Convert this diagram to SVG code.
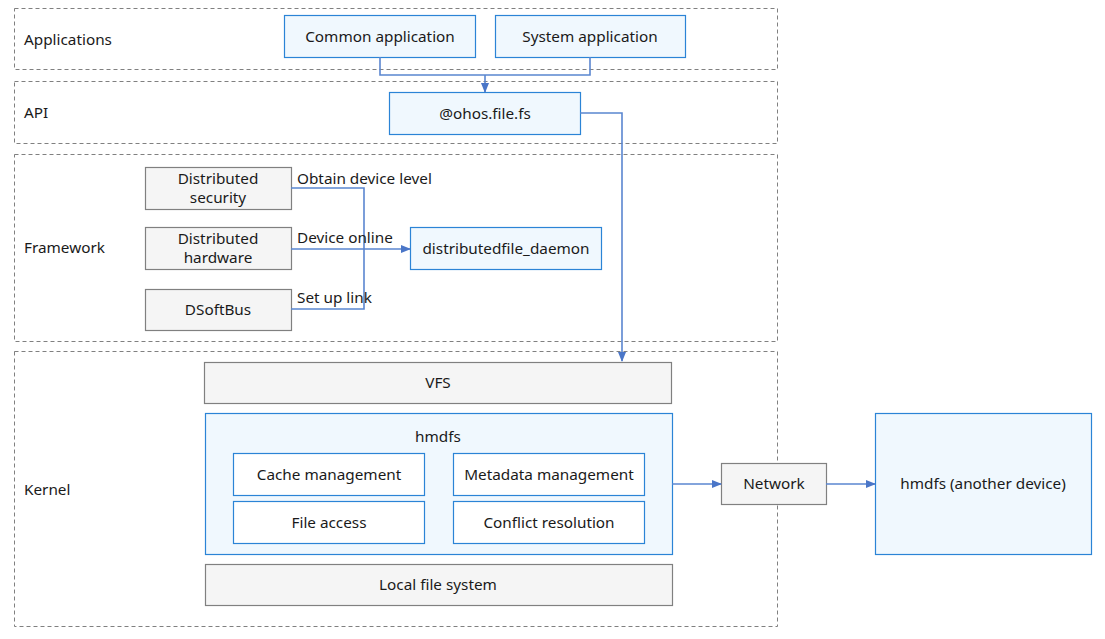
<svg xmlns="http://www.w3.org/2000/svg" width="1105" height="639" viewBox="0 0 1105 639">
<defs>
<style>
text{font-family:"Noto Sans","Liberation Sans",sans-serif;font-size:15.3px;fill:#1a1a1a}
.layer{fill:none;stroke:#808080;stroke-width:1;stroke-dasharray:4 3}
.blue{fill:#f0f8fe;stroke:#2b84d6;stroke-width:1.2}
.white{fill:#ffffff;stroke:#2b84d6;stroke-width:1.2}
.grey{fill:#f5f5f5;stroke:#808080;stroke-width:1.2}
.c{text-anchor:middle;dominant-baseline:central}
.l{dominant-baseline:central}
.conn{fill:none;stroke:#5a86d0;stroke-width:1.6}
</style>
<marker id="arr" markerWidth="10" markerHeight="10" refX="9" refY="5" orient="auto" markerUnits="userSpaceOnUse">
<path d="M0,1 L10,5 L0,9 Z" fill="#4a76c8"/>
</marker>
</defs>
<g id="layers">
<rect class="layer" x="14.5" y="8.5" width="763" height="61"/>
<text class="l" x="24" y="39">Applications</text>
<rect class="layer" x="14.5" y="81.5" width="763" height="62"/>
<text class="l" x="24" y="112">API</text>
<rect class="layer" x="14.5" y="154.5" width="763" height="187"/>
<text class="l" x="24" y="247">Framework</text>
<rect class="layer" x="14.5" y="351.5" width="763" height="275"/>
<text class="l" x="24" y="489">Kernel</text>
</g>
<g id="common-app"><rect class="blue" x="284.5" y="15.5" width="191" height="42"/><text class="c" x="380" y="36">Common application</text></g>
<g id="system-app"><rect class="blue" x="495.5" y="15.5" width="190" height="42"/><text class="c" x="590" y="36">System application</text></g>
<g id="ohos-file-fs"><rect class="blue" x="389.5" y="92.5" width="191" height="42"/><text class="c" x="485" y="113">@ohos.file.fs</text></g>
<g id="dist-security"><rect class="grey" x="145.5" y="167.5" width="146" height="42"/><text class="c" x="218" y="178">Distributed</text><text class="c" x="218" y="197">security</text></g>
<g id="dist-hardware"><rect class="grey" x="145.5" y="227.5" width="146" height="42"/><text class="c" x="218" y="238">Distributed</text><text class="c" x="218" y="257">hardware</text></g>
<g id="dsoftbus"><rect class="grey" x="145.5" y="289.5" width="146" height="41"/><text class="c" x="218" y="309">DSoftBus</text></g>
<g id="daemon"><rect class="blue" x="410.5" y="227.5" width="191" height="42"/><text class="c" x="506" y="248">distributedfile_daemon</text></g>
<g id="vfs"><rect class="grey" x="204.5" y="362.5" width="467" height="41"/><text class="c" x="438" y="382">VFS</text></g>
<g id="hmdfs"><rect class="blue" x="205.5" y="413.5" width="467" height="141"/><text class="c" x="438" y="436">hmdfs</text>
<g id="cache"><rect class="white" x="233.5" y="453.5" width="191" height="42"/><text class="c" x="329" y="474">Cache management</text></g>
<g id="metadata"><rect class="white" x="453.5" y="453.5" width="191" height="42"/><text class="c" x="549" y="474">Metadata management</text></g>
<g id="file-access"><rect class="white" x="233.5" y="501.5" width="191" height="42"/><text class="c" x="329" y="522">File access</text></g>
<g id="conflict"><rect class="white" x="453.5" y="501.5" width="191" height="42"/><text class="c" x="549" y="522">Conflict resolution</text></g>
</g>
<g id="local-fs"><rect class="grey" x="205.5" y="564.5" width="467" height="41"/><text class="c" x="438" y="584">Local file system</text></g>
<g id="network"><rect class="grey" x="721.5" y="463.5" width="105" height="41"/><text class="c" x="774" y="483">Network</text></g>
<g id="hmdfs-remote"><rect class="blue" x="875.5" y="413.5" width="216" height="141"/><text class="c" x="983" y="483">hmdfs (another device)</text></g>
<g id="connectors">
<polyline class="conn" points="380,57 380,75 590,75 590,57"/>
<line class="conn" x1="485" y1="75" x2="485" y2="92" marker-end="url(#arr)"/>
<polyline class="conn" points="580,113 622,113 622,361" marker-end="url(#arr)"/>
<polyline class="conn" points="291,188 364,188 364,309 291,309"/>
<line class="conn" x1="291" y1="249" x2="410" y2="249" marker-end="url(#arr)"/>
<line class="conn" x1="672" y1="484" x2="721" y2="484" marker-end="url(#arr)"/>
<line class="conn" x1="826" y1="484" x2="875" y2="484" marker-end="url(#arr)"/>
<text x="297" y="184">Obtain device level</text>
<text x="297" y="243">Device online</text>
<text x="297" y="303">Set up link</text>
</g>
</svg>
